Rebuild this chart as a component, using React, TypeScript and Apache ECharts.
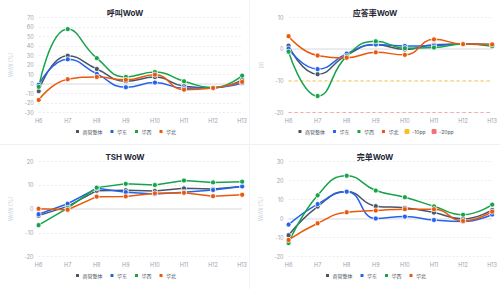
import React, { useEffect, useRef } from "react";
import * as echarts from "echarts";

// x-axis categories (hour slots)
const hours = ["H6", "H7", "H8", "H9", "H10", "H11", "H12", "H13"];
const regionNames = ["商管整体", "华东", "华西", "华北"];
const regionColors = ["#475569", "#2563eb", "#16a34a", "#ea580c"];

// 呼叫 WoW (%)
const callTotal = [-7.5, 29.8, 15.8, 2.9, 7.3, -2.3, -4, 4.3];
const callEast = [-0.8, 26, 10.6, -3.4, 1.5, -4.5, -4, 1];
const callWest = [-3, 57.8, 27.2, 7.5, 12.6, 2.9, -4, 8.8];
const callNorth = [-16.8, 5, 7.4, 4.4, 9.8, -6, -4.2, 2.2];

// 应答率 WoW (pp)
const answerTotal = [1.1, -7.9, -1.9, 1.4, -0.1, 1.4, 1.6, 1.5];
const answerEast = [0.2, -6.3, -1.4, 1.5, 1, 1.1, 1.6, 1.4];
const answerWest = [-0.8, -14.8, -2.2, 2.5, 0.3, 0.5, 1.6, 0.9];
const answerNorth = [4.1, -2, -2.7, -1, -1.8, 3.1, 1.6, 1.5];
const warnLevel = [-10, -10, -10, -10, -10, -10, -10, -10];
const alertLevel = [-20, -20, -20, -20, -20, -20, -20, -20];

// TSH WoW (%)
const tshTotal = [-2.8, 1.1, 7.7, 7.9, 7.6, 8.7, 8.4, 9.5];
const tshEast = [-2.2, 2.2, 8.7, 7.1, 6.3, 7.1, 8, 9.5];
const tshWest = [-6.8, 0.4, 9, 10.6, 10.1, 12, 11.2, 11.5];
const tshNorth = [0.1, -0.3, 5.2, 5.3, 6.6, 6.8, 5.4, 6];

// 完单 WoW (%)
const doneTotal = [-8.8, 6.3, 14.2, 6.5, 5.6, 3.1, -0.2, 4.5];
const doneEast = [-3.2, 7.6, 14.1, 0, 1, -0.8, -1.6, 2.1];
const doneWest = [-12.9, 12.2, 22.5, 14.7, 11.2, 6.4, 2, 7.3];
const doneNorth = [-11.3, -2.5, 3.3, 4.2, 4.9, 4.9, -1.3, 3.6];

const FONT = 'Inter, "Noto Sans CJK SC", sans-serif';

type Panel = {
  title: string;
  yName: string;
  min: number;
  max: number;
  smooth: boolean;
  lines: number[][];
  thresholds?: { name: string; data: number[]; color: string; opacity: number }[];
};

const panels: Panel[] = [
  { title: "呼叫WoW", yName: "WoW (%)", min: -30, max: 70, smooth: true, lines: [callTotal, callEast, callWest, callNorth] },
  {
    title: "应答率WoW", yName: "pp", min: -20, max: 10, smooth: true,
    lines: [answerTotal, answerEast, answerWest, answerNorth],
    thresholds: [
      { name: "-10pp", data: warnLevel, color: "#fbbf24", opacity: 0.9 },
      { name: "-20pp", data: alertLevel, color: "#f87171", opacity: 0.6 },
    ],
  },
  { title: "TSH WoW", yName: "WoW (%)", min: -20, max: 20, smooth: false, lines: [tshTotal, tshEast, tshWest, tshNorth] },
  { title: "完单WoW", yName: "WoW (%)", min: -20, max: 30, smooth: true, lines: [doneTotal, doneEast, doneWest, doneNorth] },
];

function buildOption(p: Panel): echarts.EChartsCoreOption {
  const series: any[] = p.lines.map((d, i) => ({
    name: regionNames[i],
    type: "line",
    data: d,
    smooth: p.smooth,
    symbol: "circle",
    symbolSize: 5,
    lineStyle: { width: 1.5, color: regionColors[i] },
    itemStyle: { color: regionColors[i], borderColor: "#ffffff", borderWidth: 0.8 },
    z: 3,
  }));
  series[0].markLine = {
    silent: true,
    symbol: "none",
    label: { show: false },
    lineStyle: { color: "#e5e7eb", width: 1.6, type: "solid" },
    data: [{ yAxis: 0 }],
    z: 1,
  };
  (p.thresholds || []).forEach((t) => {
    series.push({
      name: t.name,
      type: "line",
      data: t.data,
      symbol: "none",
      lineStyle: { width: 1, type: [3, 3], color: t.color, opacity: t.opacity },
      itemStyle: { color: t.color },
      z: 2,
    });
  });
  return {
    animation: false,
    textStyle: { fontFamily: FONT },
    title: {
      text: p.title,
      left: "center",
      top: 3.5,
      textStyle: { fontSize: 8, fontWeight: "bold", color: "#1f2937", fontFamily: FONT },
    },
    legend: {
      bottom: 5,
      left: "center",
      icon: "roundRect",
      itemWidth: 5,
      itemHeight: 5,
      itemGap: 6,
      textStyle: { fontSize: 5, color: "#4b5563", padding: [0, 0, 0, -2.5], fontFamily: FONT },
      data: series.map((s) => s.name),
    },
    grid: { left: 27.7, right: 5.8, top: 17.5, height: 95 },
    xAxis: {
      type: "category",
      data: hours,
      boundaryGap: false,
      axisLine: { show: false },
      axisTick: { show: false },
      axisLabel: { color: "#9ca3af", fontSize: 5.5, margin: 6 },
      splitLine: { show: false },
    },
    yAxis: {
      type: "value",
      min: p.min,
      max: p.max,
      interval: 10,
      name: p.yName,
      nameLocation: "middle",
      nameGap: 18,
      nameTextStyle: { color: "#cbd5e1", fontSize: 5.5 },
      axisLine: { show: false },
      axisTick: { show: false },
      axisLabel: { color: "#9ca3af", fontSize: 5.5, margin: 5 },
      splitLine: { lineStyle: { color: "#e5e7eb", type: [2, 2], width: 0.8 } },
    },
    series,
  };
}

function ChartPanel({ panel, left, top, width, height }: { panel: Panel; left: number; top: number; width: number; height: number }) {
  const ref = useRef<HTMLDivElement>(null);
  useEffect(() => {
    if (!ref.current) return;
    const chart = echarts.init(ref.current, undefined, { renderer: "svg" });
    chart.setOption(buildOption(panel));
    return () => chart.dispose();
  }, [panel]);
  return <div ref={ref} style={{ position: "absolute", left, top, width, height }} />;
}

export default function App() {
  return (
    <div style={{ position: "absolute", left: 0, top: 0, width: 500, height: 289, background: "#ffffff", overflow: "hidden" }}>
      <ChartPanel panel={panels[0]} left={0} top={0} width={250} height={144.5} />
      <ChartPanel panel={panels[1]} left={250} top={0} width={250} height={144.5} />
      <ChartPanel panel={panels[2]} left={0} top={144} width={250} height={145} />
      <ChartPanel panel={panels[3]} left={250} top={144} width={250} height={145} />
      <div style={{ position: "absolute", left: 249, top: 0, width: 1, height: 289, background: "#eef1f6" }} />
      <div style={{ position: "absolute", left: 0, top: 144, width: 500, height: 1, background: "#eef1f6" }} />
    </div>
  );
}
